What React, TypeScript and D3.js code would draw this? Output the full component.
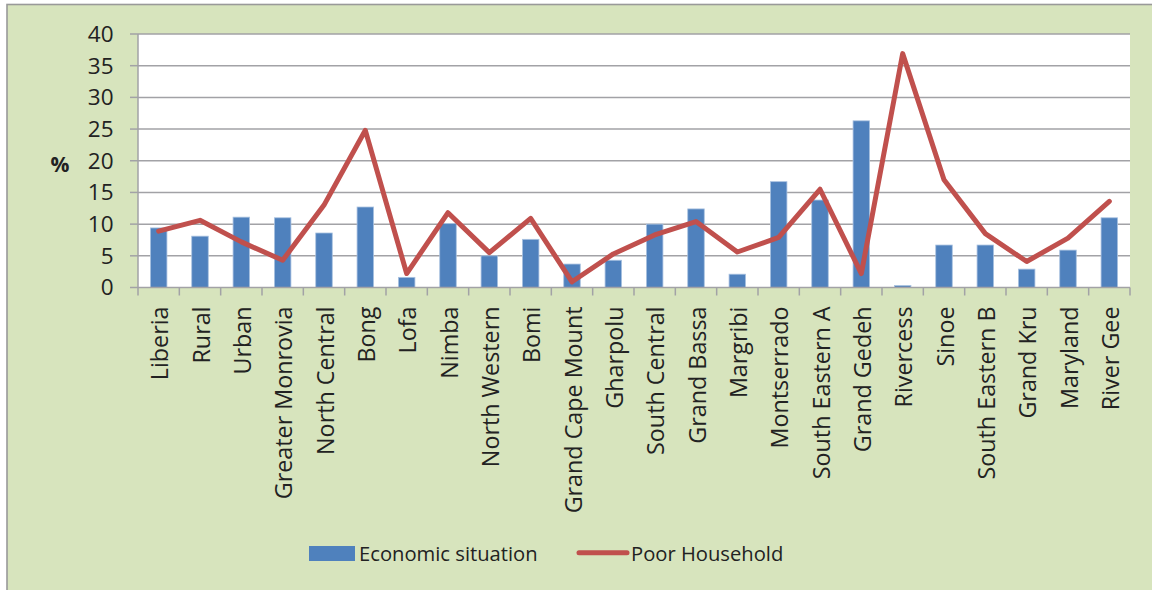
import React from "react";
import * as d3 from "d3";

const categories = [
  "Liberia", "Rural", "Urban", "Greater Monrovia", "North Central", "Bong", "Lofa",
  "Nimba", "North Western", "Bomi", "Grand Cape Mount", "Gharpolu", "South Central",
  "Grand Bassa", "Margribi", "Montserrado", "South Eastern A", "Grand Gedeh",
  "Rivercess", "Sinoe", "South Eastern B", "Grand Kru", "Maryland", "River Gee",
];
const economicSituation = [
  9.4, 8.1, 11.1, 11.0, 8.6, 12.7, 1.6, 10.1, 5.0, 7.6, 3.7, 4.3, 10.0, 12.4,
  2.1, 16.7, 13.8, 26.3, 0.3, 6.7, 6.7, 2.9, 5.9, 11.0,
];
const poorHousehold = [
  8.9, 10.6, 7.2, 4.3, 13.0, 24.8, 2.2, 11.8, 5.5, 10.9, 0.9, 5.3, 8.3, 10.4,
  5.6, 7.9, 15.5, 2.2, 36.9, 17.0, 8.5, 4.1, 7.8, 13.6,
];
const yTicks = [0, 5, 10, 15, 20, 25, 30, 35, 40];
const legendLabels = ["Economic situation", "Poor Household"];

const W = 1152;
const H = 590;
const M = { left: 138, right: 1130, top: 34, bottom: 287.5 };
const FONT = "'Open Sans', 'Liberation Sans', sans-serif";
const TEXT = "#222222";
const GRID = "#A2A2A6";

export default function App() {
  const x = d3.scaleBand<string>().domain(categories).range([M.left, M.right]).paddingInner(0).paddingOuter(0);
  const y = d3.scaleLinear().domain([0, 40]).range([M.bottom, M.top]);
  const bw = x.bandwidth() * 0.4;
  const line = d3
    .line<number>()
    .x((_, i) => (x(categories[i]) as number) + x.bandwidth() / 2)
    .y((d) => y(d));

  return (
    <svg
      width={W}
      height={H}
      style={{ position: "absolute", left: 0, top: 0, display: "block" }}
      fontFamily={FONT}
    >
      <rect x={0} y={0} width={W} height={H} fill="#ffffff" />
      <rect x={7} y={4.5} width={W} height={H} fill="#D7E4BD" stroke="#999999" strokeWidth={1.6} />
      <rect x={M.left} y={M.top} width={M.right - M.left} height={M.bottom - M.top} fill="#ffffff" />
      {yTicks.map((t) => (
        <g key={t}>
          {t > 0 && (
            <line x1={M.left} x2={M.right} y1={y(t)} y2={y(t)} stroke={GRID} strokeWidth={1.5} />
          )}
          <line x1={M.left - 8} x2={M.left} y1={y(t)} y2={y(t)} stroke={GRID} strokeWidth={1.5} />
          <text x={113.5} y={y(t)} dy="0.35em" textAnchor="end" fontSize={22.5} fill={TEXT}>
            {t}
          </text>
        </g>
      ))}
      <line x1={M.left} x2={M.left} y1={M.top} y2={M.bottom} stroke={GRID} strokeWidth={1.5} />
      {categories.map((c, i) => (
        <rect
          key={c}
          x={(x(c) as number) + (x.bandwidth() - bw) / 2}
          y={y(economicSituation[i])}
          width={bw}
          height={M.bottom - y(economicSituation[i])}
          fill="#4F81BD"
          stroke="#A9C2E0"
          strokeWidth={0.8}
        />
      ))}
      <line x1={M.left} x2={M.right} y1={M.bottom} y2={M.bottom} stroke={GRID} strokeWidth={1.5} />
      {d3.range(categories.length + 1).map((i) => {
        const tx = M.left + i * x.step();
        return <line key={i} x1={tx} x2={tx} y1={M.bottom} y2={M.bottom + 8} stroke={GRID} strokeWidth={1.5} />;
      })}
      <path
        d={line(poorHousehold) || ""}
        fill="none"
        stroke="#C0504D"
        strokeWidth={5}
        strokeLinejoin="round"
        strokeLinecap="round"
      />
      {categories.map((c) => {
        const cx = (x(c) as number) + x.bandwidth() / 2;
        return (
          <text
            key={c}
            transform={`translate(${cx},306.5) rotate(-90)`}
            textAnchor="end"
            dy={9.5}
            fontSize={23.3}
            fill={TEXT}
          >
            {c}
          </text>
        );
      })}
      <text x={60} y={165} dy="0.35em" textAnchor="middle" fontSize={21} fontWeight="bold" fill={TEXT}>
        %
      </text>
      <rect x={309} y={546} width={46} height={15} fill="#4F81BD" />
      <text x={359} y={561} fontSize={20.2} fill={TEXT}>
        {legendLabels[0]}
      </text>
      <line x1={579} x2={627} y1={552.7} y2={552.7} stroke="#C0504D" strokeWidth={5} strokeLinecap="round" />
      <text x={631} y={561} fontSize={20.2} fill={TEXT}>
        {legendLabels[1]}
      </text>
    </svg>
  );
}
